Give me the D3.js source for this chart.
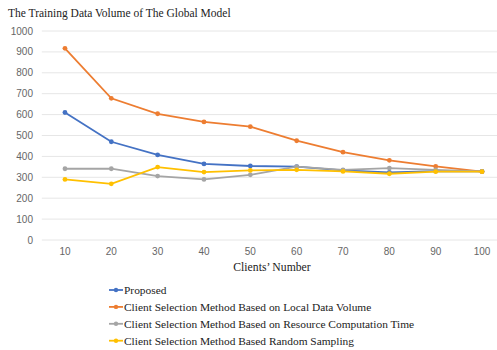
<!DOCTYPE html>
<html><head><meta charset="utf-8">
<script src="https://cdn.jsdelivr.net/npm/d3@7"></script>
<style>body{margin:0;background:#fff}</style>
</head><body>
<svg id="c" width="497" height="350"></svg>
<script>
const categories = [10,20,30,40,50,60,70,80,90,100];
const proposed = [610,470,407,364,354,351,333,323,330,328];
const localData = [917,678,604,565,542,475,420,381,352,327];
const resourceTime = [341,341,306,290,312,351,336,344,336,328];
const randomSampling = [290,269,349,325,333,336,328,317,327,327];
const yTicks = [0,100,200,300,400,500,600,700,800,900,1000];
const seriesNames = ["Proposed","Client Selection Method Based on Local Data Volume","Client Selection Method Based on Resource Computation Time","Client Selection Method Based Random Sampling"];
const colors = ["#4472C4","#ED7D31","#A5A5A5","#FFC000"];
const seriesData = [proposed, localData, resourceTime, randomSampling];

const svg = d3.select("#c");
const x = d3.scaleBand().domain(categories).range([41.8, 505.2]);
const y = d3.scaleLinear().domain([0,1000]).range([240, 31]);
const cx = d => x(d) + x.bandwidth()/2;

svg.append("text").attr("x",8).attr("y",16.5).text("The Training Data Volume of The Global Model")
  .style("font-family","Liberation Serif, Times New Roman, serif").style("font-size","11.5px").attr("fill","#222");

// gridlines
svg.append("g").selectAll("line").data(yTicks).join("line")
  .attr("x1",41.8).attr("x2",505).attr("y1",d=>y(d)).attr("y2",d=>y(d))
  .attr("stroke","#e6e6e6").attr("stroke-width",1);

// y labels
svg.append("g").selectAll("text").data(yTicks).join("text")
  .attr("x",33).attr("y",d=>y(d)+3.5).attr("text-anchor","end").text(d=>d)
  .style("font-family","Liberation Sans, Arial, sans-serif").style("font-size","10px").attr("fill","#666");

// x labels
svg.append("g").selectAll("text").data(categories).join("text")
  .attr("x",d=>cx(d)).attr("y",255).attr("text-anchor","middle").text(d=>d)
  .style("font-family","Liberation Sans, Arial, sans-serif").style("font-size","10px").attr("fill","#666");

svg.append("text").attr("x",272).attr("y",271).attr("text-anchor","middle").text("Clients\u2019 Number")
  .style("font-family","Liberation Serif, Times New Roman, serif").style("font-size","11.7px").attr("fill","#222");

const line = d3.line().x((d,i)=>cx(categories[i])).y(d=>y(d));
seriesData.forEach((s,k)=>{
  const g = svg.append("g");
  g.append("path").datum(s).attr("d",line).attr("fill","none").attr("stroke",colors[k]).attr("stroke-width",1.8);
  g.selectAll("circle").data(s).join("circle").attr("cx",(d,i)=>cx(categories[i])).attr("cy",d=>y(d)).attr("r",2.4).attr("fill",colors[k]);
});

// legend
const lg = svg.append("g");
seriesNames.forEach((n,k)=>{
  const yy = 290 + k*16.9;
  lg.append("line").attr("x1",109).attr("x2",123).attr("y1",yy).attr("y2",yy).attr("stroke",colors[k]).attr("stroke-width",1.8);
  lg.append("circle").attr("cx",116).attr("cy",yy).attr("r",2.2).attr("fill",colors[k]);
  lg.append("text").attr("x",124).attr("y",yy+4).text(n)
    .style("font-family","Liberation Serif, Times New Roman, serif").style("font-size","11.4px").attr("fill","#222");
});
</script>
</body></html>
